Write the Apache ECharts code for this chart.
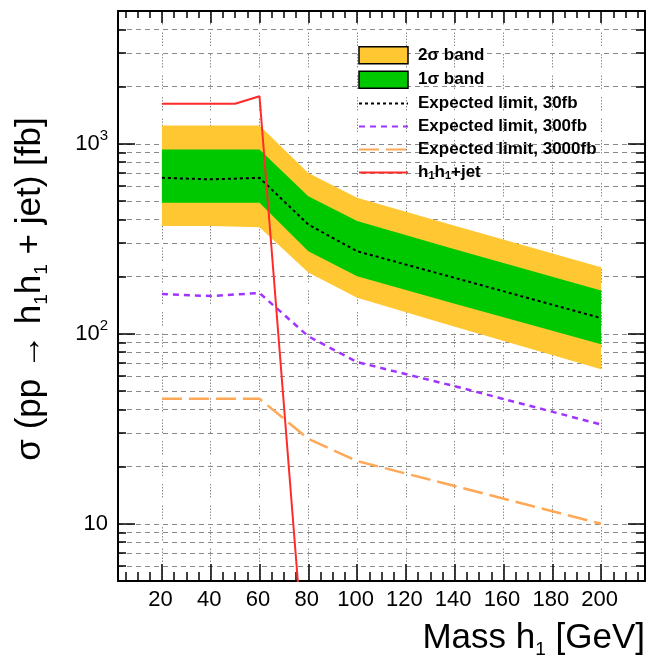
<!DOCTYPE html>
<html><head><meta charset="utf-8">
<script src="https://cdn.jsdelivr.net/npm/echarts@6/dist/echarts.min.js"></script>
<style>html,body{margin:0;padding:0;background:#fff}#c{width:648px;height:660px}</style>
</head><body><div id="c"></div>
<script>
// ---- data ----
const masses      = [20, 40, 60, 80, 100, 140, 200];
const band2Upper  = [1250, 1250, 1250, 703, 520, 370, 224];
const band1Upper  = [934, 934, 934, 530, 392, 279, 169];
const exp30       = [662, 650, 662, 376, 272, 197, 121];
const band1Lower  = [489, 489, 489, 272, 201, 144, 88];
const band2Lower  = [369, 369, 364, 210, 155, 109, 65];
const exp300      = [162, 158, 164, 97, 71, 53, 33.3];
const exp3000     = [45.5, 45.5, 45.5, 28, 21.4, 15.8, 10];
const sigMass     = [20, 40, 50, 60, 80];
const sigXsec     = [1624, 1624, 1624, 1780, 1];

const xMajorTicks = [20, 40, 60, 80, 100, 120, 140, 160, 180, 200];
const xMinorTicks = [5, 10, 15, 25, 30, 35, 45, 50, 55, 65, 70, 75, 85, 90, 95, 105, 110, 115, 125, 130, 135, 145, 150, 155, 165, 170, 175, 185, 190, 195, 205, 210, 215];
const yMajorTicks = [10, 100, 1000];
const yMinorTicks = [6, 7, 8, 9, 20, 30, 40, 50, 60, 70, 80, 90, 200, 300, 400, 500, 600, 700, 800, 900, 2000, 3000, 4000];
const yLabelSup   = {10: '', 100: '2', 1000: '3'};

const FONT = "'Liberation Sans', Arial, sans-serif";
const YELLOW = '#ffc833', GREEN = '#00c800';
const gridLineH = {show: true, lineStyle: {color: '#8a8a8a', width: 1, type: [5, 4]}};
const gridLineV = {show: true, lineStyle: {color: '#8a8a8a', width: 1, type: [1.5, 1.5, 1.5, 1.5, 1.5, 1.5, 1.5, 1.5, 1.5, 8]}};

function xAx(pos, ticks, len, line, label, split) {
  return {
    type: 'value', min: 2, max: 218, position: pos,
    axisLine: {show: line, onZero: false, lineStyle: {color: '#000', width: 2}},
    axisTick: {show: true, inside: true, length: len, customValues: ticks, lineStyle: {color: '#000', width: 1.5}},
    axisLabel: label ? {show: true, customValues: ticks, fontSize: 22, fontFamily: FONT, color: '#000', margin: 8, padding: [0, 3, 0, 0]} : {show: false},
    splitLine: split ? split : {show: false},
    minorTick: {show: false}, minorSplitLine: {show: false}
  };
}
function yAx(pos, ticks, len, line, label, split) {
  return {
    type: 'log', logBase: 10, min: 5, max: 5000, position: pos,
    axisLine: {show: line, onZero: false, lineStyle: {color: '#000', width: 2}},
    axisTick: {show: true, inside: true, length: len, customValues: ticks, lineStyle: {color: '#000', width: 1.5}},
    axisLabel: label ? {
      show: true, customValues: ticks, margin: 10, color: '#000',
      formatter: v => '{n|10}' + (yLabelSup[Math.round(v)] ? '{s|' + yLabelSup[Math.round(v)] + '}' : ''),
      rich: {
        n: {fontSize: 22, fontFamily: FONT, color: '#000', lineHeight: 30},
        s: {fontSize: 15, fontFamily: FONT, color: '#000', lineHeight: 15, verticalAlign: 'top'}
      }
    } : {show: false},
    splitLine: split ? split : {show: false},
    minorTick: {show: false}, minorSplitLine: {show: false}
  };
}

function bandSeries(name, upper, lower, color) {
  return {
    name: name, type: 'custom', xAxisIndex: 0, yAxisIndex: 0,
    itemStyle: {color: color},
    data: [[masses[0], upper[0]]],
    renderItem: function (params, api) {
      const pts = [];
      for (let i = 0; i < masses.length; i++) pts.push(api.coord([masses[i], upper[i]]));
      for (let i = masses.length - 1; i >= 0; i--) pts.push(api.coord([masses[i], lower[i]]));
      return {type: 'polygon', shape: {points: pts}, style: {fill: color, stroke: null}};
    },
    z: 1
  };
}
function lineSeries(name, xs, ys, color, width, dash) {
  return {
    name: name, type: 'line', xAxisIndex: 0, yAxisIndex: 0, symbol: 'none', z: 3,
    data: xs.map((x, i) => [x, ys[i]]),
    lineStyle: {color: color, width: width, type: dash},
    itemStyle: {color: color}
  };
}
const noSym = {opacity: 0};

const chart = echarts.init(document.getElementById('c'), null, {renderer: 'canvas'});
chart.setOption({
  animation: false,
  backgroundColor: '#fff',
  grid: {left: 118, right: 3, top: 11, bottom: 79, containLabel: false},
  xAxis: [
    xAx('bottom', xMajorTicks, 17, true, true, gridLineV),
    xAx('bottom', xMinorTicks, 9, false, false, null),
    xAx('top', xMajorTicks, 12, true, false, null),
    xAx('top', xMinorTicks, 7, false, false, null)
  ],
  yAxis: [
    yAx('left', yMajorTicks, 17, true, true, gridLineH),
    yAx('left', yMinorTicks, 8, false, false, gridLineH),
    yAx('right', yMajorTicks, 17, true, false, null),
    yAx('right', yMinorTicks, 9, false, false, null)
  ],
  legend: {
    orient: 'vertical', left: 358, top: 46, padding: 0,
    itemWidth: 49, itemHeight: 17, itemGap: 6,
    selectedMode: false,
    textStyle: {fontSize: 17, fontWeight: 'bold', fontFamily: FONT, color: '#000', lineHeight: 17, padding: [0, 0, 0, 5],
      rich: {
        b: {fontSize: 17, fontWeight: 'bold', fontFamily: FONT, color: '#000', lineHeight: 17},
        sb: {fontSize: 11, fontWeight: 'bold', fontFamily: FONT, color: '#000', lineHeight: 11, verticalAlign: 'bottom'}
      }},
    formatter: name => name === 'h1h1+jet' ? '{b|h}{sb|1}{b|h}{sb|1}{b|+jet}' : '{b|' + name + '}',
    data: [
      {name: '2σ band', icon: 'rect', itemStyle: {color: YELLOW, borderColor: '#000', borderWidth: 1.5}},
      {name: '1σ band', icon: 'rect', itemStyle: {color: GREEN, borderColor: '#000', borderWidth: 1.5}},
      {name: 'Expected limit, 30fb', itemStyle: noSym},
      {name: 'Expected limit, 300fb', itemStyle: noSym},
      {name: 'Expected limit, 3000fb', itemStyle: noSym},
      {name: 'h1h1+jet', itemStyle: noSym}
    ]
  },
  series: [
    bandSeries('2σ band', band2Upper, band2Lower, YELLOW),
    bandSeries('1σ band', band1Upper, band1Lower, GREEN),
    lineSeries('Expected limit, 30fb', masses, exp30, '#000', 2, [3, 3]),
    lineSeries('Expected limit, 300fb', masses, exp300, '#a033ff', 2.5, [6, 5]),
    lineSeries('Expected limit, 3000fb', masses, exp3000, '#ffa857', 2.5, [20, 7]),
    lineSeries('h1h1+jet', sigMass, sigXsec, '#ff2a2a', 2, 'solid')
  ],
  graphic: [
    {type: 'text', x: 645, y: 638, style: {
      text: '{n|Mass h}{s|1}{n| [GeV]}', align: 'right', verticalAlign: 'middle',
      rich: {
        n: {fontSize: 35, fontFamily: FONT, fill: '#000', lineHeight: 42},
        s: {fontSize: 19, fontFamily: FONT, fill: '#000', lineHeight: 19, verticalAlign: 'bottom'}
      }}},
    {type: 'text', x: 30, y: 289, rotation: Math.PI / 2, style: {
      text: '{n|σ (pp → h}{s|1}{n|h}{s|1}{n| + jet) [fb]}', align: 'center', verticalAlign: 'middle',
      rich: {
        n: {fontSize: 35, fontFamily: FONT, fill: '#000', lineHeight: 42},
        s: {fontSize: 19, fontFamily: FONT, fill: '#000', lineHeight: 19, verticalAlign: 'bottom'}
      }}}
  ]
});
</script></body></html>
